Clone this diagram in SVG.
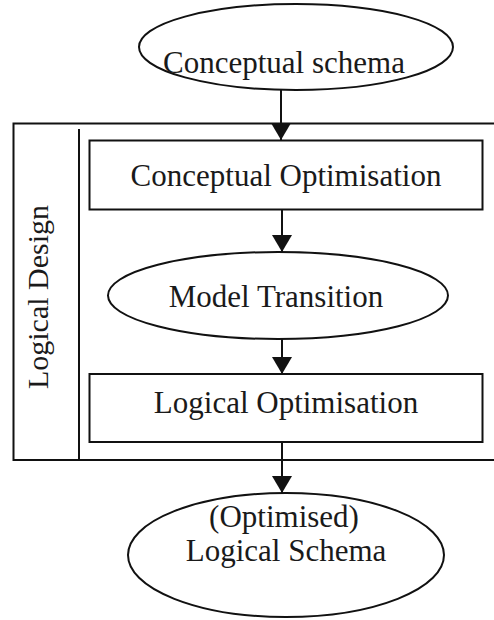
<svg xmlns="http://www.w3.org/2000/svg" width="494" height="620" viewBox="0 0 494 620">
  <defs>
    <style>
      .s { fill: #fff; stroke: #111; stroke-width: 2; }
      .t { font-family: "Liberation Serif", "Times New Roman", serif; font-size: 31px; fill: #1a1a1a; text-anchor: middle; }
      .c { stroke: #111; stroke-width: 2; fill: none; }
    </style>
    <marker id="ah" markerWidth="17" markerHeight="20" refX="17" refY="10" orient="auto" markerUnits="userSpaceOnUse" viewBox="0 0 17 20">
      <path d="M0,0 L17,10 L0,20 Z" fill="#111"/>
    </marker>
  </defs>
  <rect width="494" height="620" fill="#fff"/>
  <g id="logical-design">
    <rect x="13.5" y="123.5" width="500" height="336.5" fill="none" stroke="#111" stroke-width="2"/>
    <line x1="79" y1="129" x2="79" y2="460" stroke="#111" stroke-width="2"/>
    <text class="t" style="font-size:30px" transform="translate(48,297) rotate(-90)" x="0" y="0">Logical Design</text>
  </g>
  <g id="conceptual-schema">
    <ellipse class="s" cx="296" cy="47" rx="157" ry="43"/>
    <text class="t" x="284" y="73">Conceptual schema</text>
  </g>
  <g id="conceptual-optimisation">
    <rect class="s" x="89.5" y="140.5" width="393" height="69"/>
    <text class="t" x="286" y="186">Conceptual Optimisation</text>
  </g>
  <g id="model-transition">
    <ellipse class="s" cx="278" cy="295.5" rx="170" ry="43.5"/>
    <text class="t" x="276" y="307">Model Transition</text>
  </g>
  <g id="logical-optimisation">
    <rect class="s" x="89.5" y="374" width="393" height="68"/>
    <text class="t" x="286" y="413">Logical Optimisation</text>
  </g>
  <g id="logical-schema">
    <ellipse class="s" cx="286" cy="555" rx="158" ry="62"/>
    <text class="t" x="284" y="527">(Optimised)</text>
    <text class="t" x="286" y="561">Logical Schema</text>
  </g>
  <g id="connectors">
    <line class="c" x1="281" y1="90" x2="281" y2="140" marker-end="url(#ah)"/>
    <line class="c" x1="282" y1="210" x2="282" y2="252" marker-end="url(#ah)"/>
    <line class="c" x1="282" y1="339" x2="282" y2="374" marker-end="url(#ah)"/>
    <line class="c" x1="282" y1="442" x2="282" y2="493" marker-end="url(#ah)"/>
  </g>
</svg>
